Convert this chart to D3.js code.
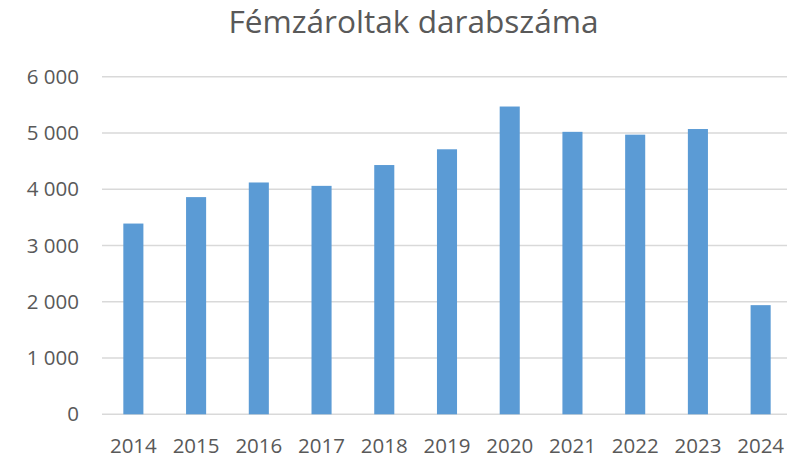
<!DOCTYPE html>
<html>
<head>
<meta charset="utf-8">
<script src="https://cdn.jsdelivr.net/npm/d3@7"></script>
<style>
  html, body { margin: 0; padding: 0; background: #fff; }
  svg { display: block; }
  text { font-family: "Open Sans", "Noto Sans", sans-serif; fill: #595959; }
</style>
</head>
<body>
<svg id="chart" width="790" height="458"></svg>
<script>
const title = "Fémzároltak darabszáma";
const years = ["2014","2015","2016","2017","2018","2019","2020","2021","2022","2023","2024"];
const counts = [3390, 3860, 4120, 4060, 4430, 4710, 5470, 5020, 4970, 5070, 1940];
const yTicks = [0, 1000, 2000, 3000, 4000, 5000, 6000];

const svg = d3.select("#chart");
const margin = { left: 102, right: -2, top: 76.7, bottom: 43.7 };
const W = 790, H = 458;

const x = d3.scaleBand().domain(years).range([margin.left, W - margin.right]).paddingInner(0.68).paddingOuter(0.34);
const y = d3.scaleLinear().domain([0, 6000]).range([H - margin.bottom, margin.top]);

const fmt = v => d3.format(",")(v).replace(/,/g, " ");

// gridlines
svg.append("g").selectAll("line").data(yTicks).join("line")
  .attr("x1", margin.left).attr("x2", 787)
  .attr("y1", d => y(d)).attr("y2", d => y(d))
  .attr("stroke", "#d9d9d9").attr("stroke-width", 1.6);

// y axis labels
const yAxis = d3.axisLeft(y).tickValues(yTicks).tickFormat(fmt).tickSize(0).tickPadding(0);
const gy = svg.append("g").attr("transform", `translate(79,0)`).call(yAxis);
gy.select(".domain").remove();
gy.selectAll("text").attr("font-size", 20.5).attr("fill", "#595959").attr("font-family", "Open Sans");

// bars
svg.append("g").selectAll("rect").data(years).join("rect")
  .attr("x", (d) => x(d))
  .attr("width", x.bandwidth())
  .attr("y", (d, i) => y(counts[i]))
  .attr("height", (d, i) => y(0) - y(counts[i]))
  .attr("fill", "#5b9bd5");

// x axis labels
const xAxis = d3.axisBottom(x).tickSize(0).tickPadding(0);
const gx = svg.append("g").attr("transform", `translate(0,${y(0)})`).call(xAxis);
gx.select(".domain").remove();
gx.selectAll("text").attr("font-size", 20.5).attr("fill", "#595959").attr("font-family", "Open Sans")
  .attr("dy", null).attr("y", 38.5);

// title
svg.append("text").attr("x", 413.5).attr("y", 33).attr("text-anchor", "middle")
  .attr("font-size", 31.6).text(title);
</script>
</body>
</html>
